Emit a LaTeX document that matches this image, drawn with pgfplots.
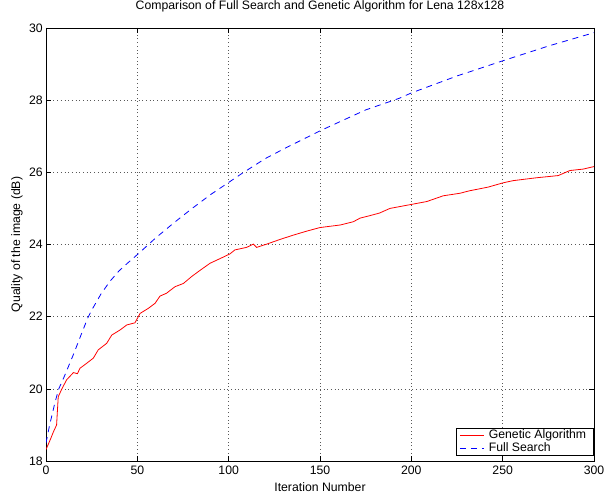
\documentclass[border=0pt]{standalone}
\usepackage{fontspec}
\setmainfont{Liberation Sans}
\usepackage{pgfplots}
\pgfplotsset{compat=1.18}

\begin{document}
\fontsize{12.3}{14}\selectfont
\begin{tikzpicture}
\begin{axis}[
    name=main,
    scale only axis,
    width=548bp, height=433bp,
    xmin=0, xmax=300,
    ymin=18, ymax=30,
    xtick={0,50,100,150,200,250,300},
    ytick={18,20,22,24,26,28,30},
    tick align=inside,
    major tick length=5bp,
    tick style={black, line width=0.6pt},
    grid=major,
    grid style={black!65, line width=0.5pt, dash pattern=on 0.7bp off 3bp},
    axis line style={black, line width=0.7pt},
    /pgf/number format/assume math mode=true,
    ticklabel style={font=\fontsize{12.3}{14}\selectfont},
    yticklabel style={xshift=1bp},
    xticklabel style={yshift=-1bp},
    title={Comparison of Full Search and Genetic Algorithm for Lena 128x128},
    title style={at={(axis description cs:0.5,1.037)}, anchor=center,
        font=\fontsize{12.3}{14}\selectfont},
    xlabel={Iteration Number},
    ylabel={Quality of the image (dB)},
    xlabel style={at={(axis description cs:0.5,-0.06)}, anchor=center},
    ylabel style={at={(axis description cs:-0.053,0.5)}, anchor=center},
    legend style={at={(1,0.012)}, anchor=south east, draw=black,
        line width=0.6pt, font=\fontsize{12.3}{14}\selectfont,
        inner xsep=3bp, inner ysep=0.5bp, row sep=-1bp,
        nodes={inner xsep=4.5bp, inner ysep=1.5bp},
        legend cell align=left},
    legend image code/.code={\draw[#1] (-1bp,0bp) -- (23bp,0bp);},
]

\addplot[draw=red, line width=0.8pt]
    coordinates {(0,18.32)(2,18.55)(4,18.8)(5.8,19.0)(6.7,19.78)(8.6,19.99)
    (11.3,20.25)(15,20.45)(17.2,20.42)(18.6,20.57)(22.3,20.71)(25.9,20.85)
    (28.6,21.08)(33.2,21.26)(36,21.49)(40.5,21.63)(44.2,21.77)(48.7,21.83)
    (51.5,22.09)(56,22.23)(59.7,22.37)(62.4,22.57)(66,22.65)(70.6,22.83)
    (75.2,22.92)(79.7,23.11)(83.4,23.25)(89.8,23.48)(97,23.65)(100.7,23.74)
    (103.4,23.85)(109.8,23.92)(113.5,24.01)(115.3,23.92)(120.8,24.01)
    (128.1,24.14)(135.4,24.26)(142.7,24.37)(150,24.47)(161,24.54)(168.2,24.63)
    (171.9,24.73)(177.3,24.8)(182.5,24.87)(188.3,25.0)(201,25.12)(208.4,25.19)
    (217.5,25.35)(226.6,25.42)(232,25.49)(242,25.59)(250.3,25.71)(255.8,25.77)
    (268.6,25.85)(280.4,25.91)(286.8,26.05)(294.1,26.09)(300,26.16)};
\addlegendentry{Genetic Algorithm}

\addplot[draw=blue, line width=0.8pt, dash pattern=on 6bp off 5bp]
    coordinates {(0,18.5)(2,19.0)(5,19.64)(7,20.0)(10,20.34)(15,20.95)
    (20,21.6)(23,21.98)(25,22.18)(30,22.62)(35,22.98)(40,23.27)(45,23.5)
    (50,23.72)(53.5,23.88)(60,24.18)(70,24.6)(80,25.0)(90,25.38)(100,25.72)
    (107,25.96)(120,26.38)(130.6,26.66)(150,27.15)(175,27.73)(193.3,28.05)
    (200,28.2)(225,28.67)(250,29.09)(275,29.5)(300,29.87)};
\addlegendentry{Full Search}

\end{axis}
\pgfresetboundingbox
\path ([shift={(-46bp,-32bp)}]main.south west) rectangle
      ([shift={(10bp,28bp)}]main.north east);
\end{tikzpicture}
\end{document}
